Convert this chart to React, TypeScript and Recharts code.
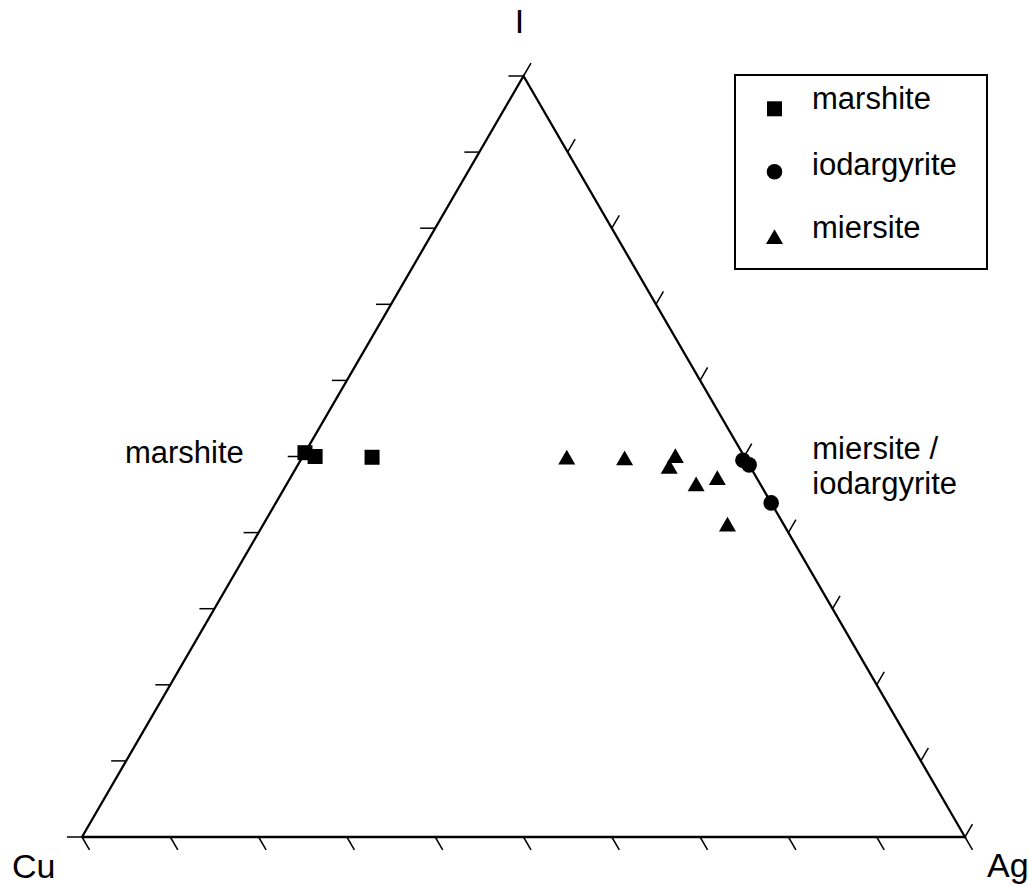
import React from 'react';
import { ScatterChart, Scatter, XAxis, YAxis, ReferenceLine, ReferenceDot, Legend } from 'recharts';

const H = Math.sqrt(3) / 2;

// compositions, at.% as [Cu, Ag, I]
const marshite = [[49.5, 0, 50.5], [48.6, 1.4, 50.0], [42.2, 7.9, 49.9]];
const iodargyrite = [[0.4, 50.1, 49.5], [0, 51.1, 48.9], [0, 56.1, 43.9]];
const miersite = [
  [20.3, 30.1, 49.6],
  [13.8, 36.7, 49.5],
  [7.9, 42.3, 49.8],
  [9.3, 42.3, 48.4],
  [7.4, 46.5, 46.1],
  [4.6, 48.5, 46.9],
  [6.5, 52.7, 40.8],
];
const vertices = [[100, 0, 0], [0, 100, 0], [0, 0, 100]];
const vertexLabels = ['Cu', 'Ag', 'I'];
const tickSteps = [0, 10, 20, 30, 40, 50, 60, 70, 80, 90, 100];
const seriesNames = ['marshite', 'iodargyrite', 'miersite'];

const FONT = '"Liberation Sans", Arial, Helvetica, sans-serif';
const TICK = 0.017;

const toXY = (c: number[]) => {
  const s = c[0] + c[1] + c[2];
  return { x: (c[1] + c[2] / 2) / s, y: (c[2] / s) * H };
};

const frame = [...vertices, vertices[0]].map(toXY);

type Seg = [{ x: number; y: number }, { x: number; y: number }];
const ticks: Seg[] = [];
tickSteps.forEach((k) => {
  const b = toXY([100 - k, k, 0]);
  ticks.push([b, { x: b.x + 0.5 * TICK, y: b.y - H * TICK }]);
  const l = toXY([100 - k, 0, k]);
  ticks.push([l, { x: l.x - TICK, y: l.y }]);
  const r = toXY([0, 100 - k, k]);
  ticks.push([r, { x: r.x + 0.5 * TICK, y: r.y + H * TICK }]);
});

const Square = ({ cx, cy }: any) => <rect x={cx - 7.5} y={cy - 7.5} width={15} height={15} fill="#000" />;
const Dot = ({ cx, cy }: any) => <circle cx={cx} cy={cy} r={7.8} fill="#000" />;
const Tri = ({ cx, cy }: any) => (
  <polygon points={`${cx},${cy - 9.8} ${cx - 8.5},${cy + 5} ${cx + 8.5},${cy + 5}`} fill="#000" />
);
const Nothing = () => <g />;
const shapes = [Square, Dot, Tri];

const LegendBox = () => {
  const symY = [34.8, 97.7, 165];
  const textY = [35, 101, 164];
  return (
    <svg width={254} height={196} style={{ display: 'block' }}>
      <rect x={1} y={1} width={252} height={194} fill="#fff" stroke="#000" strokeWidth={2} />
      {seriesNames.map((n, i) => {
        const S = shapes[i];
        return (
          <g key={n}>
            <S cx={40.5} cy={symY[i]} />
            <text x={78} y={textY[i]} fontSize={31} fontFamily={FONT} fill="#000">
              {n}
            </text>
          </g>
        );
      })}
    </svg>
  );
};

const textAt = (txt: string, dx: number, dy: number, size: number, anchor: string) =>
  ({ viewBox }: any) => (
    <text
      x={viewBox.x + dx}
      y={viewBox.y + dy}
      fontSize={size}
      fontFamily={FONT}
      textAnchor={anchor as any}
      fill="#000"
    >
      {txt}
    </text>
  );

const vertexOffsets = [
  [-70, 41, 'start'],
  [22, 40, 'start'],
  [-4, -43, 'middle'],
];

export default function App() {
  const mLabel = toXY([50, 0, 50]);
  const rLabel = toXY([0, 50, 50]);
  return (
    <div style={{ position: 'absolute', left: 0, top: 0, width: 1029, height: 886, background: '#fff' }}>
      <style>{'body{margin:0}'}</style>
      <ScatterChart width={1029} height={886} margin={{ top: 76, right: 64, bottom: 49, left: 82 }}>
        <XAxis type="number" dataKey="x" domain={[0, 1]} hide />
        <YAxis type="number" dataKey="y" domain={[0, H]} hide />
        <Legend
          layout="vertical"
          align="center"
          verticalAlign="middle"
          wrapperStyle={{ left: 734, top: 74, width: 254, height: 196 }}
          content={LegendBox}
        />
        {ticks.map((s, i) => (
          <ReferenceLine key={i} segment={s} stroke="#000" strokeWidth={1.5} ifOverflow="visible" />
        ))}
        <Scatter
          data={frame}
          line={{ stroke: '#000', strokeWidth: 2.3 }}
          lineType="joint"
          shape={Nothing}
          isAnimationActive={false}
        />
        <Scatter name="marshite" data={marshite.map(toXY)} shape={Square} isAnimationActive={false} />
        <Scatter name="miersite" data={miersite.map(toXY)} shape={Tri} isAnimationActive={false} />
        <Scatter name="iodargyrite" data={iodargyrite.map(toXY)} shape={Dot} isAnimationActive={false} />
        {vertices.map((v, i) => {
          const p = toXY(v);
          const [dx, dy, a] = vertexOffsets[i] as [number, number, string];
          return (
            <ReferenceDot
              key={vertexLabels[i]}
              x={p.x}
              y={p.y}
              r={0}
              ifOverflow="visible"
              label={{ content: textAt(vertexLabels[i], dx, dy, 34, a) }}
            />
          );
        })}
        <ReferenceDot x={mLabel.x} y={mLabel.y} r={0} ifOverflow="visible"
          label={{ content: textAt('marshite', -59, 6.5, 31, 'end') }} />
        <ReferenceDot x={rLabel.x} y={rLabel.y} r={0} ifOverflow="visible"
          label={{ content: textAt('miersite /', 68, 2.5, 31, 'start') }} />
        <ReferenceDot x={rLabel.x} y={rLabel.y} r={0} ifOverflow="visible"
          label={{ content: textAt('iodargyrite', 68, 37.5, 31, 'start') }} />
      </ScatterChart>
    </div>
  );
}
